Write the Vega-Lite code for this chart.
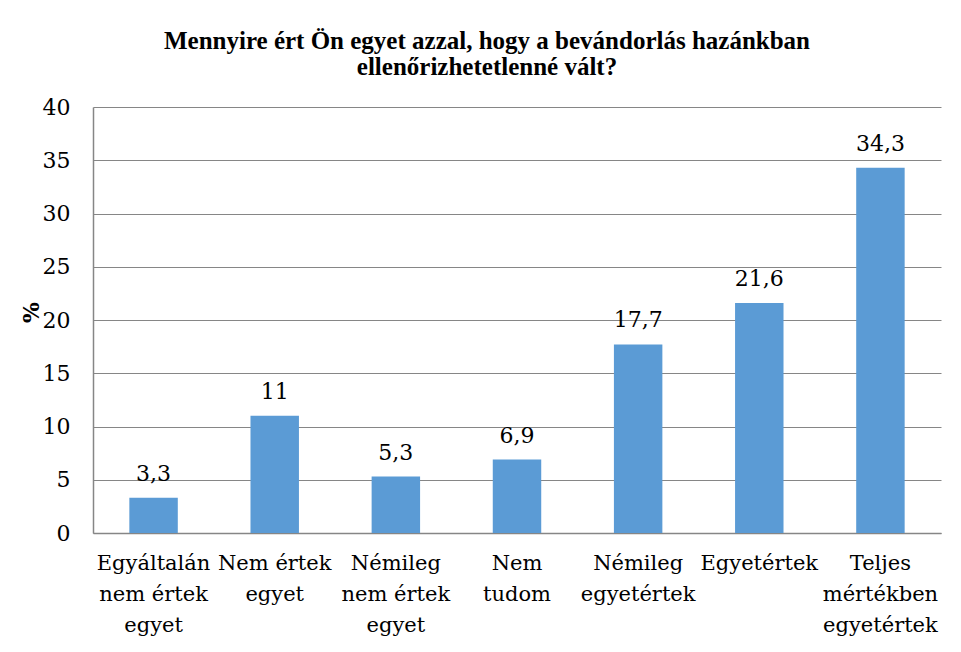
{
  "$schema": "https://vega.github.io/schema/vega-lite/v6.json",
  "width": 848,
  "height": 426,
  "autosize": {"type": "none"},
  "padding": {"left": 93, "top": 107, "right": 20, "bottom": 119},
  "background": "white",
  "config": {
    "view": {"stroke": null},
    "font": "DejaVu Serif",
    "locale": {"number": {"decimal": ",", "thousands": " ", "grouping": [3], "currency": ["", ""]}}
  },
  "title": {
    "text": ["Mennyire ért Ön egyet azzal, hogy a bevándorlás hazánkban", "ellenőrizhetetlenné vált?"],
    "font": "Liberation Serif",
    "fontSize": 25,
    "fontWeight": "bold",
    "lineHeight": 26,
    "color": "black",
    "anchor": "middle",
    "frame": "group",
    "dx": -30,
    "dy": 4,
    "offset": 20
  },
  "data": {
    "values": [
      {"category": "Egyáltalán\nnem értek\negyet", "value": 3.3},
      {"category": "Nem értek\negyet", "value": 11},
      {"category": "Némileg\nnem értek\negyet", "value": 5.3},
      {"category": "Nem\ntudom", "value": 6.9},
      {"category": "Némileg\negyetértek", "value": 17.7},
      {"category": "Egyetértek", "value": 21.6},
      {"category": "Teljes\nmértékben\negyetértek", "value": 34.3}
    ]
  },
  "encoding": {
    "x": {
      "field": "category",
      "type": "nominal",
      "sort": null,
      "scale": {"paddingInner": 0.6, "paddingOuter": 0.3},
      "axis": {
        "title": null,
        "labelAngle": 0,
        "labelExpr": "split(datum.value, '\\n')",
        "labelFont": "DejaVu Serif",
        "labelFontSize": 21,
        "labelColor": "black",
        "labelLineHeight": 31,
        "labelPadding": 19,
        "labelBaseline": "top",
        "ticks": false,
        "domainColor": "#868686",
        "domainWidth": 1.5,
        "labelLimit": 0
      }
    },
    "y": {
      "field": "value",
      "type": "quantitative",
      "scale": {"domain": [0, 40], "nice": false},
      "axis": {
        "title": "%",
        "titleFont": "DejaVu Serif",
        "titleFontSize": 22,
        "titleFontWeight": "bold",
        "titleColor": "black",
        "titleAngle": 270,
        "titleX": -62,
        "titleY": 205,
        "titleAlign": "center",
        "titleBaseline": "middle",
        "values": [0, 5, 10, 15, 20, 25, 30, 35, 40],
        "labelFont": "DejaVu Serif",
        "labelFontSize": 22,
        "labelColor": "black",
        "labelPadding": 23,
        "ticks": false,
        "grid": true,
        "gridColor": "#868686",
        "gridWidth": 1,
        "domainColor": "#868686",
        "domainWidth": 1.5
      }
    }
  },
  "layer": [
    {"mark": {"type": "bar", "color": "#5B9BD5"}},
    {
      "mark": {"type": "text", "baseline": "alphabetic", "dy": -17, "fontSize": 22, "font": "DejaVu Serif", "color": "black"},
      "encoding": {"text": {"field": "value", "type": "quantitative", "format": ".1~f"}}
    }
  ]
}
